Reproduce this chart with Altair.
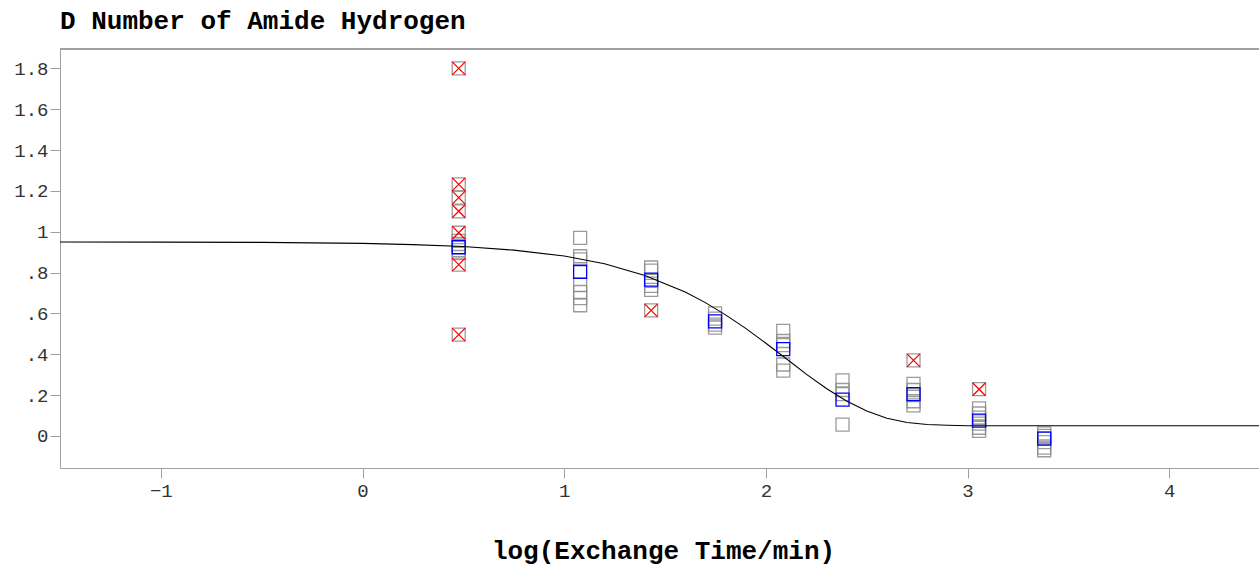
import altair as alt
import pandas as pd

# log10 exchange times (columns of replicate points)
col_x = [0.477, 1.079, 1.431, 1.748, 2.086, 2.380, 2.732, 3.057, 3.380]

# grey replicate values per column
rep_y = [
    [0.955, 0.94, 0.925, 0.91, 0.895],
    [0.97, 0.88, 0.865, 0.74, 0.705, 0.675, 0.64],
    [0.825, 0.81, 0.76, 0.735, 0.715],
    [0.60, 0.575, 0.545, 0.53],
    [0.515, 0.465, 0.445, 0.35, 0.32],
    [0.272, 0.225, 0.205, 0.055],
    [0.255, 0.225, 0.20, 0.17, 0.15],
    [0.135, 0.11, 0.09, 0.06, 0.04, 0.025],
    [0.013, 0.0, -0.012, -0.03, -0.057, -0.07],
]

# blue mean values per column
mean_y = [0.924, 0.804, 0.766, 0.561, 0.425, 0.178, 0.205, 0.075, -0.013]

# red outliers
out_x = [0.477, 0.477, 0.477, 0.477, 0.477, 0.477, 0.477, 1.431, 2.732, 3.057]
out_y = [1.80, 1.232, 1.167, 1.10, 0.995, 0.839, 0.496, 0.615, 0.37, 0.229]

# fitted curve
curve_x = [-1.5, -1.0, -0.5, 0.0, 0.25, 0.5, 0.75, 1.0, 1.2, 1.4, 1.6, 1.7, 1.8,
           1.9, 2.0, 2.1, 2.2, 2.3, 2.4, 2.5, 2.6, 2.7, 2.8, 2.9, 3.0, 3.5, 4.0, 4.5]
curve_y = [0.950, 0.949, 0.948, 0.943, 0.937, 0.928, 0.910, 0.881, 0.843, 0.786,
           0.705, 0.653, 0.593, 0.527, 0.454, 0.379, 0.303, 0.232, 0.171, 0.122,
           0.087, 0.066, 0.056, 0.052, 0.050, 0.050, 0.050, 0.050]

y_ticks = [0, 0.2, 0.4, 0.6, 0.8, 1.0, 1.2, 1.4, 1.6, 1.8]
x_ticks = [-1, 0, 1, 2, 3, 4]

rows = []
for cx, ys in zip(col_x, rep_y):
    for v in ys:
        rows.append({"x": cx, "y": v})
rep_df = pd.DataFrame(rows)
mean_df = pd.DataFrame({"x": col_x, "y": mean_y})
out_df = pd.DataFrame({"x": out_x, "y": out_y})
curve_df = pd.DataFrame({"x": curve_x, "y": curve_y})

W, H = 1199, 419
FONT = "Liberation Mono"
AX = "#a0a0a0"

xscale = alt.Scale(domain=[-1.5, 4.445], nice=False, zero=False)
yscale = alt.Scale(domain=[-0.157, 1.895], nice=False, zero=False)

xenc = alt.X("x:Q", scale=xscale, axis=alt.Axis(
    values=x_ticks, format="d", title="log(Exchange Time/min)", grid=False,
    domainColor=AX, tickColor=AX, tickSize=10, labelFont=FONT, labelFontSize=19,
    labelColor="#333333", labelPadding=3, titleFont=FONT, titleFontSize=26,
    titleFontWeight="bold", titleColor="black", titleX=603, titleY=90,
    titleAlign="center", titleBaseline="alphabetic", titleAnchor="start"))
yenc = alt.Y("y:Q", scale=yscale, axis=alt.Axis(
    values=y_ticks, title=None, grid=False, domainColor=AX, tickColor=AX,
    tickSize=10, labelFont=FONT, labelFontSize=19, labelColor="#333333",
    labelPadding=2,
    labelExpr="datum.value > 0.01 && datum.value < 0.99 ? substring(format(datum.value, '.1f'), 1) : format(datum.value, '.1~f')"))

SIZE = 169

grey = alt.Chart(rep_df).mark_point(shape="square", filled=False, size=SIZE,
                                     stroke="#8a8a8a", strokeWidth=1.3, opacity=0.85).encode(x=xenc, y=yenc)
out_box = alt.Chart(out_df).mark_point(shape="square", filled=False, size=SIZE,
                                        stroke="#8a8a8a", strokeWidth=1.3, opacity=0.85).encode(x="x:Q", y="y:Q")
out_x_mark = alt.Chart(out_df).mark_point(shape="M-1,-1L1,1M-1,1L1,-1", filled=False, size=SIZE,
                                           stroke="#ff0000", strokeWidth=1.3, opacity=1).encode(x="x:Q", y="y:Q")
blue = alt.Chart(mean_df).mark_point(shape="square", filled=False, size=SIZE,
                                      stroke="#0000ff", strokeWidth=1.3, opacity=1).encode(x="x:Q", y="y:Q")
line = alt.Chart(curve_df).mark_line(color="black", strokeWidth=1.1, clip=True).encode(x="x:Q", y="y:Q")
top_rule = alt.Chart(curve_df).mark_rule(color=AX, strokeWidth=1).encode(
    x=alt.value(0), x2=alt.value(W), y=alt.value(0))

chart = alt.layer(grey, out_box, out_x_mark, blue, line, top_rule).properties(
    width=W, height=H,
    title=alt.TitleParams(text="D Number of Amide Hydrogen", anchor="start", frame="group",
                          font=FONT, fontSize=26, fontWeight="bold", color="black",
                          baseline="alphabetic", offset=20, dy=26),
    autosize=alt.AutoSizeParams(type="none"),
    padding={"left": 60, "top": 49, "right": 0, "bottom": 99},
).configure_view(stroke=None).configure(background="white")

chart.save("out.html", embed_options={"renderer": "svg", "actions": False})
